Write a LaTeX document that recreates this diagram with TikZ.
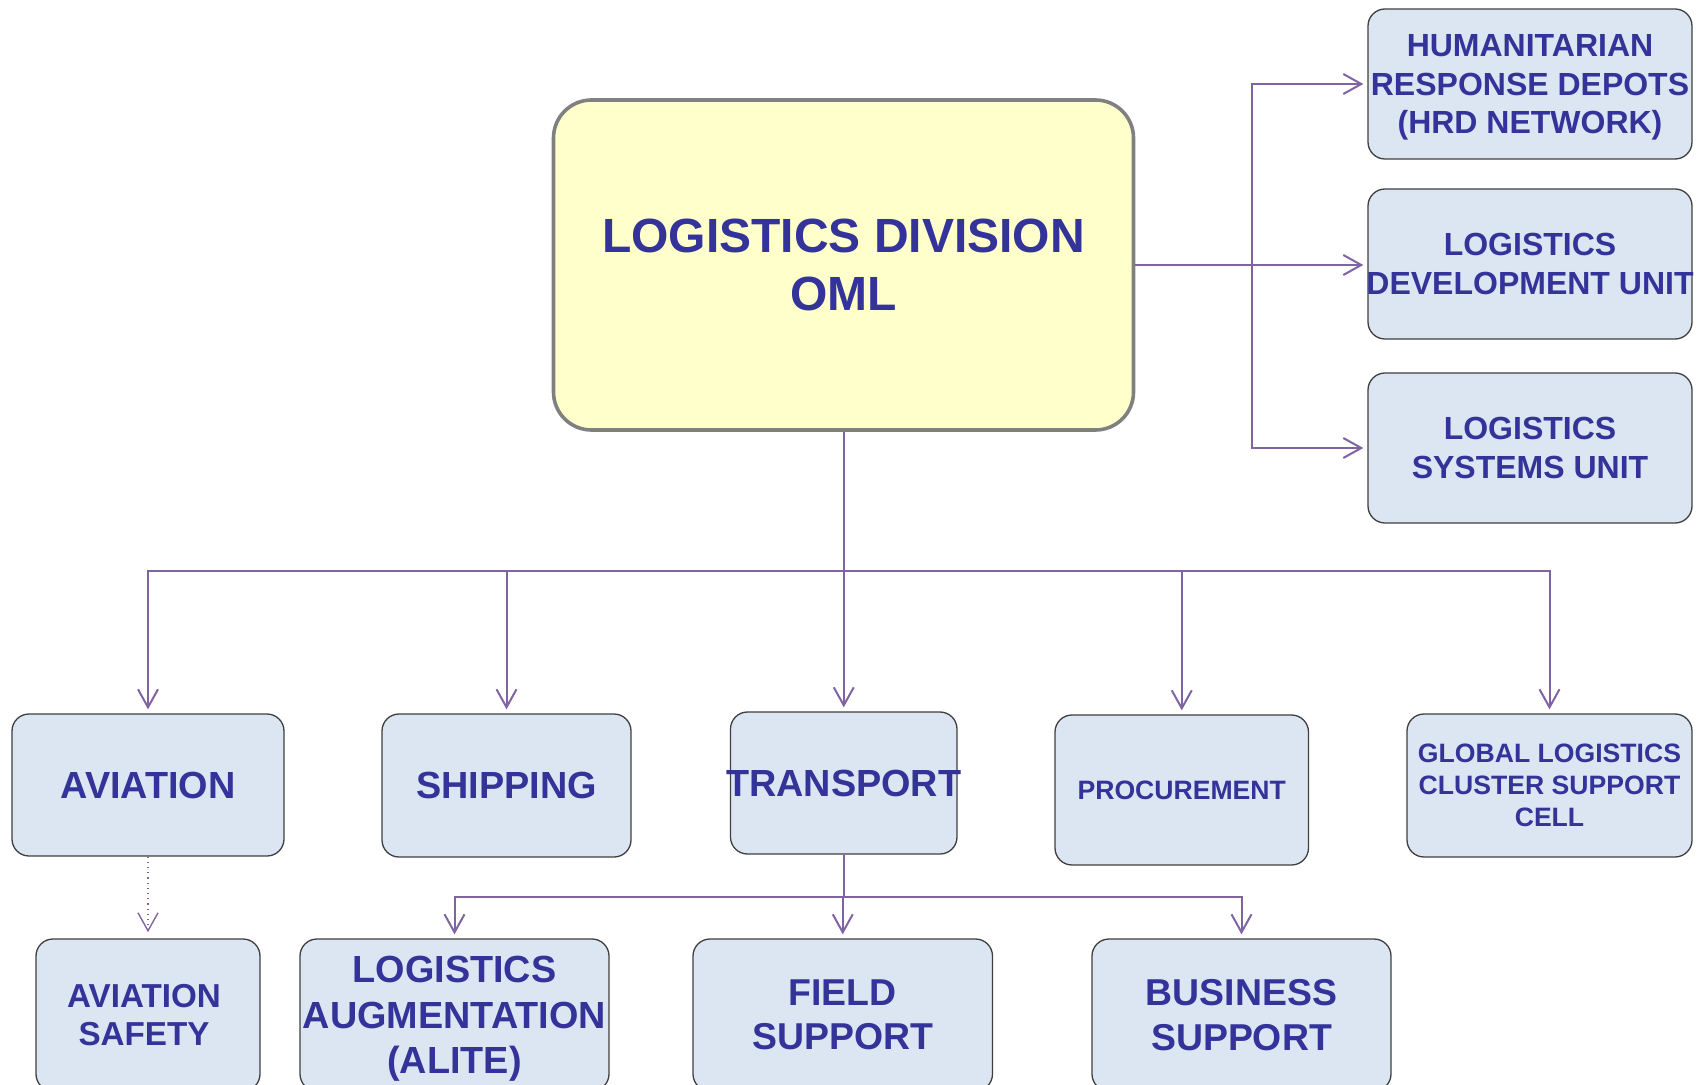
\documentclass[tikz,border=0pt]{standalone}
\usepackage{fontspec}
\setmainfont{Liberation Sans}
\usetikzlibrary{arrows.meta}
\definecolor{txt}{HTML}{333399}
\definecolor{conncol}{HTML}{8064A2}
\definecolor{boxfill}{HTML}{DCE6F2}
\definecolor{mainfill}{HTML}{FFFFCC}
\definecolor{mainborder}{HTML}{808080}
\definecolor{boxborder}{HTML}{3F3F3F}
\begin{document}
\begin{tikzpicture}[x=0.5pt,y=-0.5pt,
  ubox/.style={draw=boxborder, line width=0.65pt, fill=boxfill, rounded corners=8.5pt,
    inner sep=0pt, align=center, text=txt},
  mainbox/.style={draw=mainborder, line width=1.8pt, fill=mainfill, rounded corners=19pt,
    inner sep=0pt, align=center, text=txt},
  conn/.style={draw=conncol, line width=1pt},
  arr/.style={conn, -{Straight Barb[length=9pt,width=10pt]}, shorten >=2pt},
  darr/.style={draw=conncol, line width=0.6pt, dotted,
    -{Straight Barb[length=9pt,width=10pt,line width=0.7pt,sep]}, shorten >=2pt},
  fmain/.style={font=\bfseries\fontsize{24}{29.2}\selectfont},
  fright/.style={font=\bfseries\fontsize{16}{19.3}\selectfont},
  frow/.style={font=\bfseries\fontsize{18.9}{22.3}\selectfont}
]
\path[use as bounding box] (0,0) rectangle (1697,1085);
\clip (0,0) rectangle (1697,1085);

% main
\node[mainbox, fmain, minimum width=290pt, minimum height=165pt] (main) at (843.5,265)
  {LOGISTICS DIVISION\\OML};

% right column
\node[ubox, fright, minimum width=162pt, minimum height=75pt, text depth=0pt] (hrd) at (1530,84)
  {HUMANITARIAN\\RESPONSE DEPOTS\\(HRD NETWORK)};
\node[ubox, fright, minimum width=162pt, minimum height=75pt] (ldu) at (1530,264)
  {LOGISTICS\\\makebox[0pt][c]{DEVELOPMENT UNIT}};
\node[ubox, fright, minimum width=162pt, minimum height=75pt] (lsu) at (1530,448)
  {LOGISTICS\\SYSTEMS UNIT};

% middle row
\node[ubox, frow, minimum width=136pt, minimum height=71pt] (aviation) at (148,785) {AVIATION};
\node[ubox, frow, minimum width=124.5pt, minimum height=71.5pt] (shipping) at (506.5,785.5) {SHIPPING};
\node[ubox, frow, minimum width=113.25pt, minimum height=71pt] (transport) at (843.75,783) {\makebox[0pt][c]{TRANSPORT}};
\node[ubox, font=\bfseries\fontsize{13.3}{16}\selectfont, minimum width=126.75pt, minimum height=75pt]
  (procurement) at (1181.75,790) {PROCUREMENT};
\node[ubox, font=\bfseries\fontsize{13.3}{16}\selectfont, minimum width=142.5pt, minimum height=71.5pt]
  (glcsc) at (1549.5,785.5) {GLOBAL LOGISTICS\\CLUSTER SUPPORT\\CELL};

% bottom row
\node[ubox, font=\bfseries\fontsize{16.6}{19}\selectfont, minimum width=112pt, minimum height=76pt]
  (avsafety) at (148,1015) {\hspace*{-4pt}AVIATION\\\hspace*{-4pt}SAFETY};
\node[ubox, font=\bfseries\fontsize{18.9}{22.75}\selectfont, minimum width=154.5pt, minimum height=76pt, text depth=0pt]
  (alite) at (454.5,1015) {LOGISTICS\\AUGMENTATION\\(ALITE)};
\node[ubox, font=\bfseries\fontsize{18.7}{22.3}\selectfont, minimum width=149.75pt, minimum height=76pt]
  (field) at (842.75,1015) {FIELD\\SUPPORT};
\node[ubox, font=\bfseries\fontsize{18.7}{22.3}\selectfont, minimum width=149.5pt, minimum height=76pt]
  (business) at (1241.5,1015) {BUSINESS\\SUPPORT};

% connectors to the right column
\coordinate (rj) at (1251.5,265);
\draw[arr] (main.east) -- (ldu.west |- main.east);
\draw[arr] (rj) |- (hrd.west);
\draw[arr] (rj) |- (lsu.west);

% connectors to the middle row
\coordinate (bj) at (843.5,571);
\draw[conn] (main.south) -- (bj);
\draw[arr] (bj) -| (aviation.north);
\draw[arr] (bj) -| (shipping.north);
\draw[arr] (bj) -| (transport.north);
\draw[arr] (bj) -| (procurement.north);
\draw[arr] (bj) -| (glcsc.north);

% transport children
\coordinate (tj) at (843.75,897);
\draw[conn] (transport.south) -- (tj);
\draw[arr] (tj) -| (alite.north);
\draw[arr] (tj) -| (field.north);
\draw[arr] (tj) -| (business.north);

% aviation safety (dotted)
\draw[darr] (aviation.south) -- (avsafety.north);
\end{tikzpicture}
\end{document}
